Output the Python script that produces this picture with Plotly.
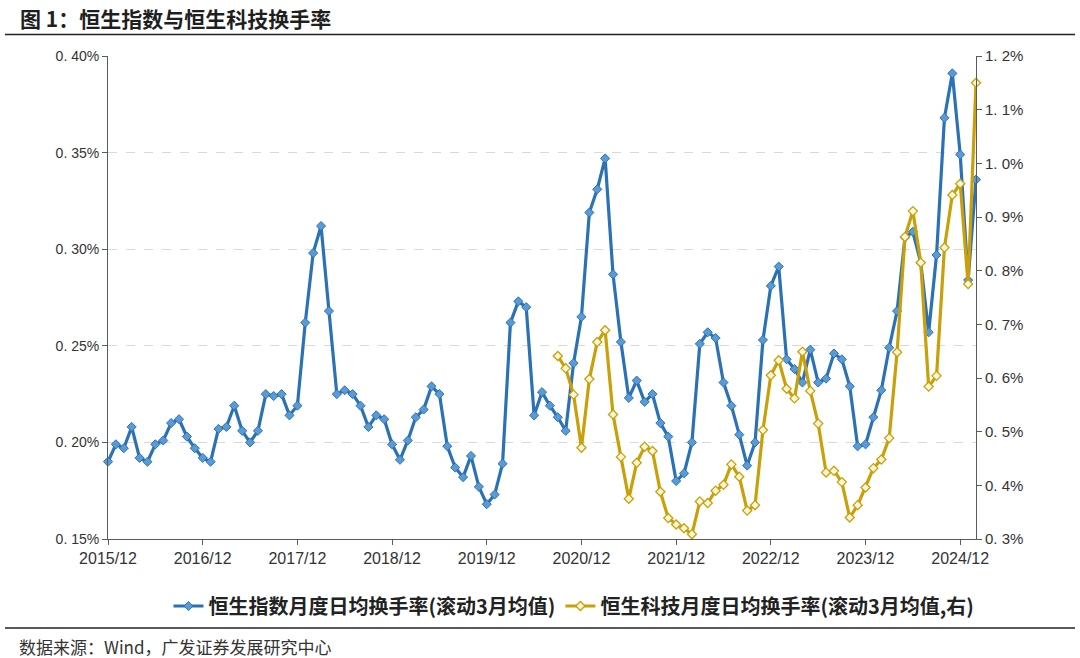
import plotly.graph_objects as go

# Month categories 2015/12 .. 2025/02
months = ["2015/12"] + [f"{y}/{m:02d}" for y in range(2016, 2025) for m in range(1, 13)] + ["2025/01", "2025/02"]

# 恒生指数月度日均换手率(滚动3月均值), %
hsi = [
    0.190,
    0.199, 0.197, 0.208, 0.192, 0.190, 0.199, 0.201, 0.210, 0.212, 0.203, 0.197, 0.192,
    0.190, 0.207, 0.208, 0.219, 0.206, 0.200, 0.206, 0.225, 0.224, 0.225, 0.214, 0.219,
    0.262, 0.298, 0.312, 0.268, 0.225, 0.227, 0.225, 0.219, 0.208, 0.214, 0.212, 0.199,
    0.191, 0.201, 0.213, 0.217, 0.229, 0.225, 0.198, 0.187, 0.182, 0.193, 0.177, 0.168,
    0.173, 0.189, 0.262, 0.273, 0.270, 0.214, 0.226, 0.219, 0.213, 0.206, 0.241, 0.265,
    0.319, 0.331, 0.347, 0.287, 0.252, 0.223, 0.232, 0.221, 0.225, 0.210, 0.203, 0.180,
    0.184, 0.200, 0.251, 0.257, 0.254, 0.231, 0.219, 0.204, 0.188, 0.200, 0.253, 0.281,
    0.291, 0.243, 0.238, 0.231, 0.248, 0.231, 0.233, 0.246, 0.243, 0.229, 0.198, 0.199,
    0.213, 0.227, 0.249, 0.268, 0.306, 0.309, 0.293, 0.257, 0.297, 0.368, 0.391, 0.349,
    0.284, 0.336,
]

# 恒生科技月度日均换手率(滚动3月均值,右), %, starts 2020/09
hstech_start = "2020/09"
hstech = [
    0.641, 0.618, 0.569, 0.470,
    0.598, 0.667, 0.689, 0.532, 0.453, 0.375, 0.442, 0.472, 0.464, 0.388, 0.339, 0.327,
    0.320, 0.309, 0.370, 0.367, 0.390, 0.401, 0.439, 0.416, 0.353, 0.363, 0.503, 0.605,
    0.633, 0.580, 0.562, 0.649, 0.576, 0.515, 0.424, 0.427, 0.406, 0.340, 0.363, 0.396,
    0.432, 0.448, 0.488, 0.648, 0.863, 0.911, 0.815, 0.584, 0.604, 0.843, 0.941, 0.962,
    0.775, 1.150,
]

x_ticks = ["2015/12", "2016/12", "2017/12", "2018/12", "2019/12", "2020/12", "2021/12", "2022/12", "2023/12", "2024/12"]
left_ticks = [0.15, 0.20, 0.25, 0.30, 0.35, 0.40]
left_labels = ["0. 15%", "0. 20%", "0. 25%", "0. 30%", "0. 35%", "0. 40%"]
right_ticks = [0.3, 0.4, 0.5, 0.6, 0.7, 0.8, 0.9, 1.0, 1.1, 1.2]
right_labels = ["0. 3%", "0. 4%", "0. 5%", "0. 6%", "0. 7%", "0. 8%", "0. 9%", "1. 0%", "1. 1%", "1. 2%"]

BLUE = "#2A72B5"
GOLD = "#C9A008"
AXIS = "#595959"
CJK = "Noto Sans CJK SC"

start_idx = months.index(hstech_start)

fig = go.Figure()
fig.add_trace(go.Scatter(
    x=months, y=hsi, name="恒生指数月度日均换手率(滚动3月均值)",
    mode="lines+markers",
    line=dict(color=BLUE, width=3.2),
    marker=dict(symbol="diamond", size=7, color="#5B9BD5", line=dict(color=BLUE, width=1)),
    cliponaxis=False,
))
fig.add_trace(go.Scatter(
    x=months[start_idx:], y=hstech, name="恒生科技月度日均换手率(滚动3月均值,右)",
    mode="lines+markers", yaxis="y2",
    line=dict(color=GOLD, width=3.2),
    marker=dict(symbol="diamond", size=7, color="#FFF7DC", line=dict(color=GOLD, width=1.3)),
    cliponaxis=False,
))

L, R, T, B = 108, 104, 56, 119
W, H = 1080, 658
pw, ph = W - L - R, H - T - B

def px_x(p):
    return (p - L) / pw

def px_y(p):
    return (H - B - p) / ph

fig.update_layout(
    width=W, height=H,
    margin=dict(l=L, r=R, t=T, b=B),
    paper_bgcolor="white", plot_bgcolor="white",
    font=dict(family="Liberation Sans, Arial", size=14, color="#333333"),
    showlegend=True,
    legend=dict(
        orientation="h", x=px_x(574), xanchor="center", y=px_y(606), yanchor="middle",
        font=dict(family=CJK, size=20, color="#222222", weight="bold"),
        itemwidth=30, tracegroupgap=0,
        bgcolor="rgba(0,0,0,0)",
    ),
    xaxis=dict(
        type="category", categoryorder="array", categoryarray=months,
        range=[0, len(months) - 1],
        tickmode="array", tickvals=x_ticks, ticktext=x_ticks,
        ticks="outside", ticklen=5, tickcolor=AXIS,
        showline=True, linecolor=AXIS, linewidth=1,
        showgrid=False, zeroline=False,
        tickfont=dict(size=16, color="#333333"),
    ),
    yaxis=dict(
        range=[0.15, 0.40], tickmode="array", tickvals=left_ticks, ticktext=left_labels,
        ticks="outside", ticklen=5, tickcolor=AXIS,
        showline=True, linecolor=AXIS, linewidth=1,
        showgrid=True, gridcolor="#D9D9D9", gridwidth=1, griddash="dash",
        zeroline=False, tickfont=dict(size=14, color="#333333"),
    ),
    yaxis2=dict(
        range=[0.3, 1.2], overlaying="y", side="right",
        tickmode="array", tickvals=right_ticks, ticktext=right_labels,
        ticks="outside", ticklen=5, tickcolor=AXIS,
        showline=True, linecolor=AXIS, linewidth=1,
        showgrid=False, zeroline=False, tickfont=dict(size=15, color="#333333"),
    ),
    shapes=[
        dict(type="line", xref="paper", yref="paper", x0=px_x(5), x1=px_x(1075),
             y0=px_y(34.5), y1=px_y(34.5), line=dict(color="#222222", width=1.5)),
        dict(type="line", xref="paper", yref="paper", x0=px_x(5), x1=px_x(1075),
             y0=px_y(628), y1=px_y(628), line=dict(color="#222222", width=1.5)),
    ],
    annotations=[
        dict(text="<b>图 1：恒生指数与恒生科技换手率</b>", xref="paper", yref="paper",
             x=px_x(18), y=px_y(18), xanchor="left", yanchor="middle", showarrow=False,
             font=dict(family=CJK, size=21, color="#1F1F1F")),
        dict(text="数据来源：Wind，广发证券发展研究中心", xref="paper", yref="paper",
             x=px_x(17), y=px_y(646), xanchor="left", yanchor="middle", showarrow=False,
             font=dict(family=CJK, size=17, color="#333333")),
    ],
)

fig.write_html("out.html", config={"displayModeBar": False},
               post_script="document.body.style.margin='0';document.body.style.padding='0';")
